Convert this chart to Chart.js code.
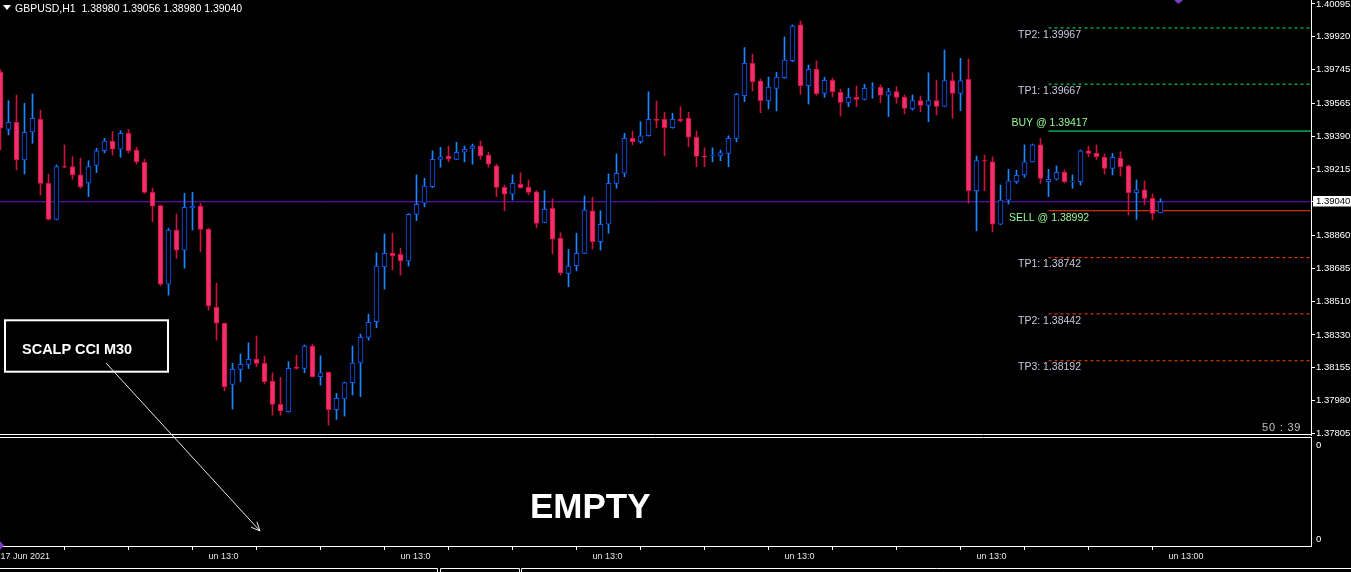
<!DOCTYPE html>
<html>
<head>
<meta charset="utf-8">
<title>GBPUSD,H1</title>
<script src="https://cdn.jsdelivr.net/npm/chart.js@4.4.1/dist/chart.umd.min.js"></script>
<style>
  html, body { margin:0; padding:0; background:#000; }
  #wrap { position:relative; width:1351px; height:572px; overflow:hidden; background:#000; }
  canvas { position:absolute; left:0; display:block; }
  #main { top:0; }
  #sub { top:435px; }
  .txt { position:absolute; white-space:nowrap; font-family:"Liberation Sans", Arial, sans-serif; color:#fff; line-height:1; }
  svg { position:absolute; left:0; top:0; }
</style>
</head>
<body>
<div id="wrap">
  <canvas id="main" width="1351" height="447"></canvas>
  <canvas id="sub" width="1351" height="137"></canvas>
  <svg width="1351" height="572">
    <polygon points="3,5 11,5 7,10" fill="#fff"/>
    <polygon points="1174,0 1183,0 1178.5,4" fill="#7a3cc8"/>
    <polygon points="0,541 4,545.5 0,550" fill="#7a3cc8"/>
    <rect x="5" y="320.3" width="163" height="51.4" fill="#000" stroke="#fff" stroke-width="2"/>
    <line x1="106" y1="363" x2="260" y2="531" stroke="#e8e8e8" stroke-width="1"/>
    <polyline points="250.9,527.1 260,531 256.9,521.7" fill="none" stroke="#e8e8e8" stroke-width="1"/>
  </svg>
  <div class="txt" id="hdr" style="left:15px;top:3px;font-size:10.5px;"></div>
  <div class="txt" style="left:22px;top:341.5px;font-size:14.5px;font-weight:bold;">SCALP CCI M30</div>
  <div class="txt" style="left:530px;top:487.5px;font-size:35px;font-weight:bold;">EMPTY</div>
  <div class="txt" style="left:1262px;top:422px;font-size:11px;color:#c0c0c0;letter-spacing:0.8px;">50 : 39</div>
</div>
<script>
// ---------------- DATA ----------------
const symbolName = 'GBPUSD,H1';
const opens = [
1.39732,1.39426,1.39464,1.39263,1.39412,1.39480,1.39138,1.38946,1.39228,1.39227,
1.39183,1.39141,1.39234,1.39312,1.39364,1.39320,1.39405,1.39316,1.39250,1.39090,
1.39019,1.38600,1.38889,1.38782,1.39009,1.39017,1.38893,1.38477,1.38392,1.38066,
1.38146,1.38173,1.38199,1.38178,1.38082,1.37959,1.37920,1.38158,1.38151,1.38270,
1.38107,1.38130,1.37931,1.37989,1.38075,1.38181,1.38317,1.38400,1.38693,1.38765,
1.38760,1.38725,1.38973,1.39032,1.39120,1.39266,1.39284,1.39266,1.39304,1.39325,
1.39337,1.39289,1.39231,1.39117,1.39080,1.39133,1.39117,1.39093,1.38930,1.39005,
1.38845,1.38658,1.38699,1.38765,1.38991,1.38827,1.38920,1.39138,1.39192,1.39378,
1.39360,1.39392,1.39480,1.39480,1.39435,1.39479,1.39485,1.39384,1.39282,1.39284,
1.39285,1.39298,1.39378,1.39606,1.39778,1.39684,1.39579,1.39645,1.39702,1.39792,
1.39983,1.39659,1.39746,1.39618,1.39688,1.39624,1.39570,1.39597,1.39586,1.39646,
1.39650,1.39608,1.39627,1.39597,1.39536,1.39579,1.39554,1.39579,1.39549,1.39686,
1.39618,1.39693,1.39099,1.39260,1.39253,1.38921,1.39049,1.39147,1.39183,1.39253,
1.39343,1.39147,1.39160,1.39197,1.39146,1.39147,1.39311,1.39298,1.39277,1.39218,
1.39272,1.39231,1.39088,1.39103,1.39058,1.38980];
const highs = [
1.39743,1.39579,1.39609,1.39565,1.39615,1.39529,1.39188,1.39236,1.39343,1.39280,
1.39272,1.39259,1.39325,1.39378,1.39414,1.39419,1.39426,1.39330,1.39266,1.39112,
1.39023,1.38898,1.38975,1.39085,1.39090,1.39032,1.38898,1.38605,1.38393,1.38178,
1.38228,1.38288,1.38324,1.38217,1.38128,1.38103,1.38187,1.38222,1.38276,1.38281,
1.38219,1.38132,1.38018,1.38078,1.38270,1.38334,1.38440,1.38768,1.38868,1.38872,
1.38792,1.38977,1.39183,1.39165,1.39311,1.39330,1.39337,1.39357,1.39337,1.39348,
1.39364,1.39304,1.39241,1.39129,1.39183,1.39195,1.39156,1.39099,1.39099,1.39055,
1.38875,1.38786,1.38872,1.39071,1.39064,1.38992,1.39188,1.39295,1.39405,1.39417,
1.39467,1.39627,1.39577,1.39517,1.39512,1.39547,1.39517,1.39417,1.39328,1.39328,
1.39316,1.39392,1.39618,1.39862,1.39828,1.39695,1.39705,1.39730,1.39919,1.39983,
1.40004,1.39769,1.39791,1.39704,1.39698,1.39640,1.39645,1.39657,1.39666,1.39675,
1.39663,1.39645,1.39654,1.39609,1.39609,1.39604,1.39728,1.39689,1.39849,1.39728,
1.39805,1.39801,1.39284,1.39289,1.39280,1.39129,1.39213,1.39209,1.39343,1.39348,
1.39378,1.39213,1.39231,1.39209,1.39183,1.39316,1.39337,1.39343,1.39295,1.39298,
1.39307,1.39236,1.39156,1.39151,1.39081,1.39056];
const lows = [
1.39316,1.39396,1.39209,1.39188,1.39352,1.39076,1.38943,1.38943,1.39222,1.39160,
1.39112,1.39067,1.39195,1.39301,1.39289,1.39277,1.39301,1.39241,1.39085,1.38933,
1.38592,1.38542,1.38738,1.38685,1.38889,1.38773,1.38462,1.38302,1.38032,1.37934,
1.38080,1.38151,1.38160,1.38068,1.37902,1.37902,1.37918,1.38146,1.38128,1.38105,
1.38062,1.37849,1.37879,1.37897,1.38009,1.38000,1.38302,1.38368,1.38574,1.38676,
1.38649,1.38697,1.38939,1.39013,1.39115,1.39224,1.39253,1.39265,1.39253,1.39240,
1.39266,1.39224,1.39067,1.38992,1.39049,1.39112,1.39076,1.38901,1.38928,1.38761,
1.38649,1.38587,1.38672,1.38763,1.38788,1.38782,1.38872,1.39112,1.39173,1.39343,
1.39352,1.39390,1.39435,1.39285,1.39432,1.39464,1.39334,1.39227,1.39227,1.39253,
1.39259,1.39227,1.39360,1.39574,1.39631,1.39515,1.39535,1.39524,1.39698,1.39787,
1.39613,1.39561,1.39609,1.39597,1.39600,1.39497,1.39547,1.39547,1.39583,1.39592,
1.39568,1.39494,1.39565,1.39508,1.39529,1.39520,1.39467,1.39503,1.39548,1.39485,
1.39526,1.39032,1.38885,1.39099,1.38880,1.38918,1.39028,1.39138,1.39170,1.39252,
1.39138,1.39067,1.39156,1.39141,1.39112,1.39129,1.39280,1.39266,1.39188,1.39183,
1.39177,1.38969,1.38946,1.39023,1.38943,1.38980];
const closes = [
1.39433,1.39464,1.39263,1.39410,1.39485,1.39138,1.38946,1.39227,1.39224,1.39183,
1.39120,1.39227,1.39312,1.39364,1.39320,1.39405,1.39312,1.39253,1.39090,1.39017,
1.38600,1.38889,1.38782,1.39010,1.39015,1.38893,1.38484,1.38392,1.38054,1.38146,
1.38173,1.38199,1.38178,1.38080,1.37959,1.37925,1.38151,1.38151,1.38270,1.38107,
1.38128,1.37931,1.37991,1.38076,1.38180,1.38317,1.38397,1.38697,1.38765,1.38752,
1.38725,1.38973,1.39026,1.39124,1.39266,1.39280,1.39269,1.39304,1.39320,1.39337,
1.39285,1.39240,1.39117,1.39080,1.39138,1.39115,1.39090,1.38925,1.39000,1.38840,
1.38661,1.38697,1.38765,1.38996,1.38827,1.38920,1.39138,1.39192,1.39378,1.39360,
1.39391,1.39480,1.39474,1.39435,1.39480,1.39473,1.39384,1.39282,1.39279,1.39287,
1.39301,1.39378,1.39613,1.39778,1.39680,1.39579,1.39652,1.39705,1.39796,1.39977,
1.39659,1.39746,1.39616,1.39688,1.39627,1.39570,1.39597,1.39586,1.39645,1.39649,
1.39608,1.39627,1.39597,1.39538,1.39579,1.39554,1.39579,1.39549,1.39686,1.39618,
1.39686,1.39099,1.39259,1.39256,1.38921,1.39049,1.39151,1.39181,1.39253,1.39343,
1.39165,1.39160,1.39197,1.39147,1.39149,1.39312,1.39298,1.39280,1.39218,1.39277,
1.39227,1.39088,1.39103,1.39058,1.38978,1.39040];

const priceTicks = [1.40095,1.39920,1.39745,1.39565,1.39390,1.39215,1.39040,1.38860,1.38685,1.38510,1.38330,1.38155,1.37980,1.37805];
const currentPrice = 1.39040;

const levelNames  = ['TP2','TP1','BUY','SELL','TP1','TP2','TP3'];
const levelPrices = [1.39967,1.39667,1.39417,1.38992,1.38742,1.38442,1.38192];
const levelStartBar = 131;

const timeMarkTicks  = [8,16,24,32,40,48,56,64,72,80,88,96,104,112,120,128,136,144];
const timeLabelTicks = [0,26,50,74,98,122,146];
const timeLabels     = ['17 Jun 2021','un 13:0','un 13:0','un 13:0','un 13:0','un 13:0','un 13:00'];

const subTickValues = [0, 1];
const subTickLabels = ['0', '0'];

// ---------------- VIEW / STYLE ----------------
const X_MIN = -0.0625, X_MAX = 163.8125;
const Y_MIN = 1.37796, Y_MAX = 1.40116;
const SUB_MIN = -0.071, SUB_MAX = 1.09;
const FONT = '"Liberation Sans", Arial, sans-serif';
const BULL_LINE = '#0f58ff', BULL_WICK = '#1a86ff';
const BEAR_FILL = '#f0306c', BEAR_LINE = '#d01040', BEAR_WICK = '#c8143c';
const CUR_COLOR = '#7412dc';
const levelStyle = [
  {color:'#00e676', dash:[3,3], text:'#c8c8dc', dx:-30.5, dy:7},
  {color:'#00e676', dash:[3,3], text:'#c8c8dc', dx:-30.5, dy:7},
  {color:'#00ff7f', dash:[],    text:'#98fb98', dx:-37,   dy:-8},
  {color:'#ff4500', dash:[],    text:'#98fb98', dx:-39.5, dy:7},
  {color:'#ff4500', dash:[3,3], text:'#c8c8dc', dx:-30.5, dy:6},
  {color:'#ff4500', dash:[3,3], text:'#c8c8dc', dx:-30.5, dy:7},
  {color:'#ff4500', dash:[3,3], text:'#c8c8dc', dx:-30.5, dy:6}
];

const last = opens.length - 1;
document.getElementById('hdr').textContent =
  symbolName + '\u00a0\u00a0' + [opens[last], highs[last], lows[last], closes[last]].map(v => v.toFixed(5)).join(' ');

const bull = opens.map((o, i) => closes[i] >= o);
const bodies = opens.map((o, i) => ({x: i, y: [o, closes[i]]}));
const wicks  = opens.map((o, i) => ({x: i, y: [lows[i], highs[i]]}));

const levelDatasets = levelPrices.map((p, i) => ({
  type: 'line',
  data: [{x: levelStartBar, y: p}, {x: X_MAX, y: p}],
  borderColor: levelStyle[i].color,
  borderWidth: 1,
  borderDash: levelStyle[i].dash,
  pointRadius: 0,
  tension: 0,
  order: 5
}));
const curDataset = {
  type: 'line',
  data: [{x: X_MIN, y: currentPrice}, {x: X_MAX, y: currentPrice}],
  borderColor: CUR_COLOR, borderWidth: 1, pointRadius: 0, order: 6
};

const levelText = {
  id: 'levelText',
  afterDatasetsDraw(chart) {
    const {ctx, scales: {x, y}} = chart;
    ctx.save();
    ctx.font = '10.5px ' + FONT;
    ctx.textBaseline = 'middle';
    ctx.textAlign = 'left';
    levelPrices.forEach((p, i) => {
      const st = levelStyle[i];
      const nm = levelNames[i];
      const label = (nm === 'BUY' || nm === 'SELL') ? nm + ' @ ' + p.toFixed(5) : nm + ': ' + p.toFixed(5);
      ctx.fillStyle = st.text;
      ctx.fillText(label, x.getPixelForValue(levelStartBar) + st.dx, y.getPixelForValue(p) + st.dy);
    });
    ctx.restore();
  },
  afterDraw(chart) {
    const {ctx} = chart;
    ctx.save();
    ctx.strokeStyle = '#ffffff';
    ctx.lineWidth = 1;
    ctx.beginPath();
    ctx.moveTo(0, 434.5); ctx.lineTo(1311.5, 434.5);
    ctx.stroke();
    ctx.restore();
  }
};

const isCur = c => c.tick && Math.abs(c.tick.value - currentPrice) < 1e-7;

new Chart(document.getElementById('main'), {
  type: 'bar',
  data: {
    datasets: [
      {type: 'bar', data: bodies, barThickness: 5, grouped: false, borderSkipped: false, borderWidth: 1,
       backgroundColor: c => bull[c.dataIndex] ? '#000000' : BEAR_FILL,
       borderColor: c => bull[c.dataIndex] ? BULL_LINE : BEAR_LINE, order: 0},
      {type: 'bar', data: wicks, barThickness: 1, grouped: false, borderSkipped: false, borderWidth: 0,
       backgroundColor: c => bull[c.dataIndex] ? BULL_WICK : BEAR_WICK, order: 1},
      ...levelDatasets,
      curDataset
    ]
  },
  options: {
    responsive: false, maintainAspectRatio: false, animation: false, devicePixelRatio: 1,
    events: [],
    layout: {padding: {top: 0, left: 0, right: 0, bottom: 12}},
    plugins: {legend: {display: false}, tooltip: {enabled: false}, title: {display: false}},
    scales: {
      x: {type: 'linear', min: X_MIN, max: X_MAX, offset: false, display: false},
      y: {
        type: 'linear', position: 'right', min: Y_MIN, max: Y_MAX, beginAtZero: false,
        afterBuildTicks: s => { s.ticks = priceTicks.map(v => ({value: v})); },
        afterFit: s => { s.width = 40; s.paddingTop = 0; s.paddingBottom = 0; },
        ticks: {
          autoSkip: false, padding: 1,
          font: {family: FONT, size: 9.5, lineHeight: 1},
          color: c => isCur(c) ? '#000000' : '#ffffff',
          showLabelBackdrop: true,
          backdropColor: c => isCur(c) ? '#ffffff' : 'rgba(0,0,0,0)',
          backdropPadding: {left: 3, right: 4, top: 1, bottom: 0},
          callback: v => Number(v).toFixed(5)
        },
        grid: {drawOnChartArea: false, tickLength: 4, tickColor: '#ffffff', color: '#ffffff'},
        border: {display: true, color: '#ffffff', width: 1}
      }
    }
  },
  plugins: [levelText]
});

const subFrame = {
  id: 'subFrame',
  afterDraw(chart) {
    const {ctx} = chart;
    ctx.save();
    ctx.strokeStyle = '#ffffff';
    ctx.lineWidth = 1;
    ctx.beginPath();
    ctx.moveTo(0, 2.5); ctx.lineTo(1311.5, 2.5);
    ctx.moveTo(0, 133.5); ctx.lineTo(437.5, 133.5); ctx.lineTo(437.5, 137);
    ctx.moveTo(440.5, 137); ctx.lineTo(440.5, 133.5); ctx.lineTo(519.5, 133.5); ctx.lineTo(519.5, 137);
    ctx.moveTo(521.5, 137); ctx.lineTo(521.5, 133.5); ctx.lineTo(1351, 133.5);
    ctx.stroke();
    ctx.restore();
  }
};

const allTimeTicks = [...new Set([...timeMarkTicks, ...timeLabelTicks])].sort((a, b) => a - b);

new Chart(document.getElementById('sub'), {
  type: 'line',
  data: {datasets: []},
  options: {
    responsive: false, maintainAspectRatio: false, animation: false, devicePixelRatio: 1,
    events: [],
    layout: {padding: {top: 2, left: 0, right: 0, bottom: 0}},
    plugins: {legend: {display: false}, tooltip: {enabled: false}},
    scales: {
      x: {
        type: 'linear', position: 'bottom', min: X_MIN, max: X_MAX, offset: false,
        afterBuildTicks: s => { s.ticks = allTimeTicks.map(v => ({value: v})); },
        afterFit: s => { s.height = 26; s.paddingLeft = 0; s.paddingRight = 0; },
        ticks: {
          autoSkip: false, maxRotation: 0, minRotation: 0, align: 'start', padding: 1,
          color: '#e6e6e6', font: {family: FONT, size: 9},
          callback: v => { const i = timeLabelTicks.indexOf(v); return i >= 0 ? timeLabels[i] : ''; }
        },
        grid: {drawOnChartArea: false, tickLength: 4,
               tickColor: c => (c.tick && timeMarkTicks.includes(c.tick.value)) ? '#ffffff' : 'rgba(0,0,0,0)'},
        border: {display: true, color: '#ffffff', width: 1}
      },
      y: {
        type: 'linear', position: 'right', min: SUB_MIN, max: SUB_MAX,
        afterBuildTicks: s => { s.ticks = subTickValues.map(v => ({value: v})); },
        afterFit: s => { s.width = 40; s.paddingTop = 0; s.paddingBottom = 0; },
        ticks: {
          autoSkip: false, padding: 1, color: '#ffffff',
          font: {family: FONT, size: 9.5, lineHeight: 1},
          callback: (v, i) => subTickLabels[i]
        },
        grid: {drawOnChartArea: false, tickLength: 4, tickColor: 'rgba(0,0,0,0)'},
        border: {display: true, color: '#ffffff', width: 1}
      }
    }
  },
  plugins: [subFrame]
});
</script>
</body>
</html>
